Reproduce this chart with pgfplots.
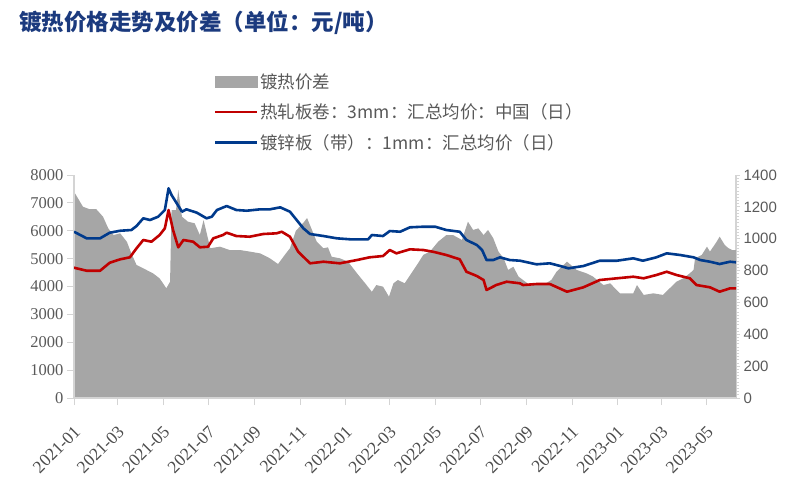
\documentclass[border=0pt]{standalone}
\usepackage{pgfplots}
\pgfplotsset{compat=1.18}
\usepackage{fontspec}
\setmainfont{Liberation Serif}
\newfontfamily\sansnum{Liberation Sans}
\newfontfamily\cjk{Noto Sans CJK SC}
\definecolor{areagray}{HTML}{A6A6A6}
\definecolor{hrcred}{HTML}{C00000}
\definecolor{galvblue}{HTML}{003A8C}
\definecolor{axisgray}{HTML}{D4D4D4}
\definecolor{labelgray}{HTML}{595959}
\definecolor{titleblue}{HTML}{1B3A7E}
\newcommand\dl[1]{\fontsize{17.5}{17.5}\selectfont #1}

% price spread, right axis (yuan/t)
\pgfplotstableread{
day spread
0 1295
4 1264
12 1201
21 1185
30 1185
39 1138
46 1065
53 1023
62 1034
71 981
77 908
84 835
93 814
106 783
115 751
124 689
129 730
131 1180
137 1180
140 1306
145 1138
153 1107
162 1097
169 1023
174 1117
183 940
196 950
209 929
223 929
236 919
250 908
263 877
274 841
283 898
290 940
298 1050
308 1100
313 1130
326 981
335 940
341 946
346 887
357 877
368 856
380 783
391 720
400 667
406 709
415 699
423 636
429 720
435 741
444 720
453 783
462 846
469 898
478 919
489 981
500 1023
509 1023
521 992
529 1107
536 1055
543 1065
550 1023
556 1055
563 1003
570 919
577 877
583 804
590 824
597 762
603 741
612 709
630 709
641 741
648 793
662 856
675 804
688 783
697 762
711 709
720 720
733 657
751 657
756 709
765 647
778 657
791 647
800 689
809 730
818 751
827 783
832 804
834 877
843 898
850 950
854 919
863 981
867 1013
874 960
879 940
884 929
889 929
}\spread

% hot rolled coil 3mm, left axis
\pgfplotstableread{
day price
0 4674
17 4566
35 4566
48 4853
62 4975
75 5047
84 5370
93 5668
104 5607
115 5847
122 6087
127 6744
133 6026
140 5406
147 5668
160 5607
169 5406
180 5427
187 5728
200 5847
205 5930
218 5811
236 5786
254 5883
272 5908
279 5965
290 5786
301 5248
317 4832
335 4889
357 4832
380 4950
397 5047
415 5094
424 5309
433 5190
451 5334
469 5309
482 5248
500 5130
518 4975
527 4530
541 4376
550 4233
554 3874
567 4053
581 4172
599 4114
603 4053
621 4089
639 4089
662 3813
684 3971
706 4233
729 4294
751 4351
765 4294
782 4412
796 4530
809 4412
827 4294
836 4053
854 3971
867 3813
881 3935
889 3935
}\hrc

% galvanized sheet 1mm, left axis
\pgfplotstableread{
day price
0 5965
17 5728
35 5728
48 5930
62 6000
77 6026
84 6170
93 6446
102 6385
113 6503
122 6744
127 7522
131 7282
138 6984
145 6683
151 6769
165 6647
178 6446
185 6503
192 6744
205 6887
218 6744
232 6719
250 6769
263 6769
277 6840
290 6683
299 6385
308 6087
317 5883
335 5811
353 5728
371 5693
395 5693
400 5847
415 5811
424 5990
438 5965
451 6123
469 6145
485 6145
500 6026
518 5965
527 5668
541 5488
548 5309
554 4950
563 4950
572 5047
585 4950
599 4925
621 4796
639 4832
653 4735
664 4652
684 4735
706 4925
729 4925
751 5011
764 4925
782 5047
796 5190
814 5130
832 5047
841 4950
854 4889
867 4807
881 4889
889 4868
}\galv

\begin{document}
\begin{tikzpicture}[x=1pt,y=1pt]
\path[use as bounding box] (0,0) rectangle (799,490);
\node[anchor=west, text=titleblue, font=\cjk\bfseries\fontsize{22.5}{26}\selectfont, inner sep=0pt] at (19,467) {镀热价格走势及价差（单位：元/吨）};

% right axis: spread area
\begin{axis}[
  at={(74pt,92pt)}, anchor=south west,
  width=662pt, height=223pt, scale only axis,
  xmin=0, xmax=889, ymin=0, ymax=1400,
  axis x line=none,
  axis y line*=right,
  axis line style={-, draw=axisgray, line width=1.5pt},
  ytick={0,200,...,1400},
  minor y tick num=9,
  tick align=outside,
  major tick length=4pt, minor tick length=3pt,
  every tick/.style={axisgray, line width=0.8pt},
  yticklabel style={font=\sansnum\fontsize{15}{15}\selectfont, text=labelgray},
  /pgf/number format/assume math mode=true,
  /pgf/number format/1000 sep={},
  clip=false,
]
\addplot[fill=areagray, draw=none] table[x=day, y=spread] {\spread} \closedcycle;
\end{axis}

% left axis: prices
\begin{axis}[
  at={(74pt,92pt)}, anchor=south west,
  width=662pt, height=223pt, scale only axis,
  xmin=0, xmax=889, ymin=0, ymax=8000,
  axis x line*=bottom,
  axis y line*=left,
  axis line style={-, draw=axisgray, line width=1.8pt},
  ytick={0,1000,...,8000},
  xtick={0,59,120,181,243,304,365,424,485,546,608,669,730,789,850},
  xticklabels={\dl{2021-01},\dl{2021-03},\dl{2021-05},\dl{2021-07},\dl{2021-09},\dl{2021-11},\dl{2022-01},\dl{2022-03},\dl{2022-05},\dl{2022-07},\dl{2022-09},\dl{2022-11},\dl{2023-01},\dl{2023-03},\dl{2023-05}},
  tick align=outside,
  major tick length=7pt,
  every tick/.style={axisgray, line width=1pt},
  yticklabel style={font=\fontsize{16.5}{16.5}\selectfont, text=labelgray},
  xticklabel style={text=labelgray!85!black, xshift=4pt, yshift=-23pt, rotate=45, anchor=east, inner sep=1pt},
  /pgf/number format/assume math mode=true,
  /pgf/number format/1000 sep={},
  legend style={at={(0.211,1.465)}, anchor=north west, draw=none, fill=none,
    font=\cjk\fontsize{17.5}{20}\selectfont, text=labelgray,
    row sep=10pt, inner sep=0pt},
  legend cell align=left,
]
\addlegendimage{legend image code/.code={\fill[areagray] (0pt,-5.5pt) rectangle (42pt,5.5pt);}}
\addlegendentry{镀热价差}
\addplot[hrcred, line width=2.6pt, line join=round,
  legend image code/.code={\draw[hrcred, line width=2.6pt] (0pt,0pt) -- (42pt,0pt);}]
  table[x=day, y=price] {\hrc};
\addlegendentry{热轧板卷：3mm：汇总均价：中国（日）}
\addplot[galvblue, line width=2.6pt, line join=round,
  legend image code/.code={\draw[galvblue, line width=2.6pt] (0pt,0pt) -- (42pt,0pt);}]
  table[x=day, y=price] {\galv};
\addlegendentry{镀锌板（带）：1mm：汇总均价（日）}
\end{axis}
\end{tikzpicture}
\end{document}
